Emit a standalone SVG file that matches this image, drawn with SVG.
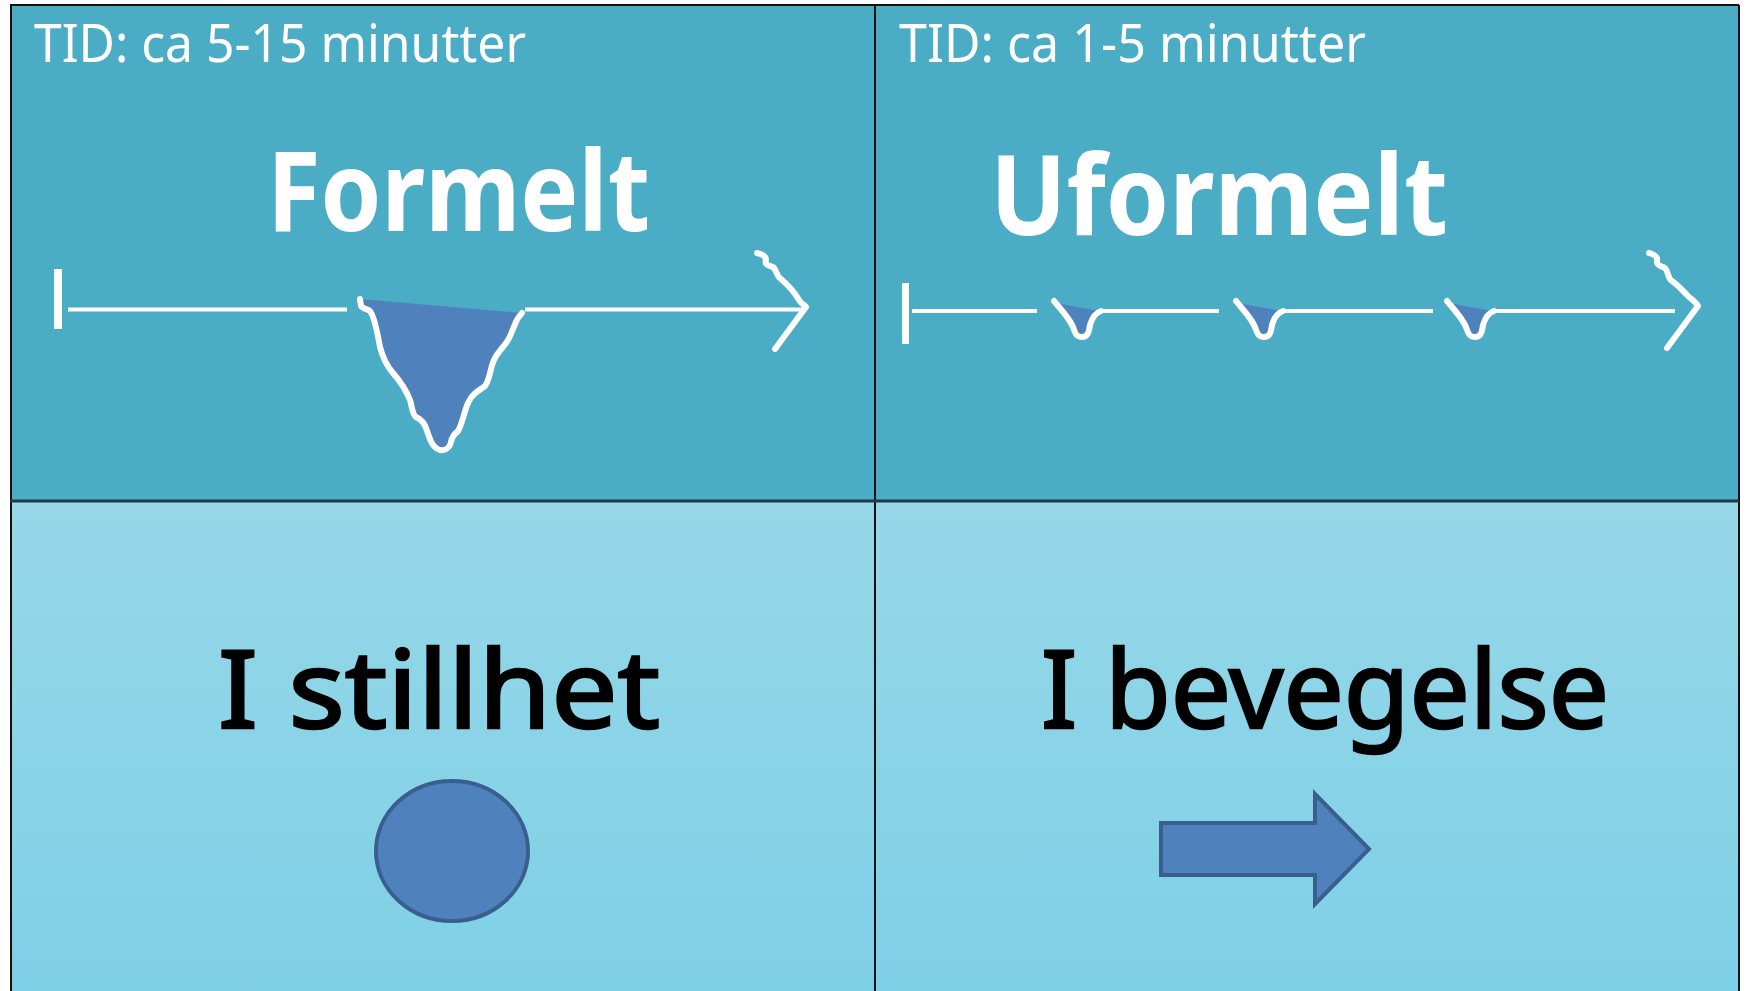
<svg xmlns="http://www.w3.org/2000/svg" xmlns:xlink="http://www.w3.org/1999/xlink" width="1748" height="991" viewBox="0 0 1748 991">
  <style>
    .top { fill: #4BACC6; }
    .tid { font-family: "Noto Sans", "DejaVu Sans", sans-serif; font-size: 52px; fill: #FFFFFF; }
    .title { font-family: "Noto Sans", "DejaVu Sans", sans-serif; font-size: 112px; font-weight: bold; fill: #FFFFFF; }
    .label { font-family: "Noto Sans", "DejaVu Sans", sans-serif; font-size: 108px; fill: #000000; stroke: #000000; stroke-width: 2.5; }
    .wline { stroke: #FFFFFF; stroke-width: 4; fill: none; }
    .wcurve { stroke: #FFFFFF; stroke-width: 6; fill: none; stroke-linecap: round; stroke-linejoin: round; }
    .drop { fill: #4F81BD; stroke: none; }
    .shape { fill: #4F81BD; stroke: #3A5F8C; stroke-width: 4; }
    .grid { stroke: #111111; stroke-width: 2; fill: none; }
  </style>
  <defs>
    <linearGradient id="bottomGrad" x1="0" y1="0" x2="0" y2="1">
      <stop offset="0" stop-color="#97D7E8"/>
      <stop offset="1" stop-color="#7ED0E7"/>
    </linearGradient>
    <g id="smallDrop">
      <path class="drop" d="M0,0 L44,8 C39,11 37,15 36,20 C35,28 33,32 27,32 C22,32 21,27 19,22 C13,13 6,7 0,0 Z"/>
      <path class="wcurve" d="M-1,-2 L4,4 C10,11 15,17 18,24 C20,30 21,34 27,34 C33,34 34,29 35,22 C37,15 40,10 46,8"/>
    </g>
  </defs>

  <rect x="0" y="0" width="1748" height="991" fill="#FFFFFF"/>

  <g id="panel-formelt">
    <rect class="top" x="10" y="5" width="865" height="496"/>
    <text class="tid" x="34" y="62" textLength="492" lengthAdjust="spacingAndGlyphs">TID: ca 5-15 minutter</text>
    <text class="title" x="267" y="231" textLength="383" lengthAdjust="spacingAndGlyphs">Formelt</text>
    <rect x="54" y="269" width="8" height="60" fill="#FFFFFF"/>
    <line class="wline" x1="68" y1="309.5" x2="347" y2="309.5"/>
    <line class="wline" x1="525" y1="309.5" x2="805" y2="309.5"/>
    <path class="drop" d="M360,299 L522,313 C514,325 512,333 508,340 C503,348 497,353 494,360 C490,368 490,380 485,386 C478,391 472,394 468,403 C464,412 462,425 458,431 C454,434 452,437 451,442 C450,447 446,451 440,450 C431,447 429,436 426,428 C424,422 420,419 416,417 C412,414 412,406 410,400 C406,390 400,381 393,373 C387,366 382,355 380,347 C377,330 374,316 370,311 C368,309 363,309 361,306 Z"/>
    <path class="wcurve" d="M360,299 L361,306 C363,309 368,309 370,311 C374,316 377,330 380,347 C382,355 387,366 393,373 C400,381 406,390 410,400 C412,406 412,414 416,417 C420,419 424,422 426,428 C429,436 431,447 440,450 C446,451 450,447 451,442 C452,437 454,434 458,431 C462,425 464,412 468,403 C472,394 478,391 485,386 C490,380 490,368 494,360 C497,353 503,348 508,340 C512,333 514,325 518,318 L522,313"/>
    <path class="wcurve" d="M757,253 C762,254 766,256 766,260 C764,265 770,266 773,267 C777,270 776,276 781,279 C788,285 795,293 799,300 C801,304 805,305 806,307 L775,349"/>
  </g>

  <g id="panel-uformelt">
    <rect class="top" x="875" y="5" width="864" height="496"/>
    <text class="tid" x="899" y="62" textLength="467" lengthAdjust="spacingAndGlyphs">TID: ca 1-5 minutter</text>
    <text class="title" x="990" y="235" textLength="458" lengthAdjust="spacingAndGlyphs">Uformelt</text>
    <rect x="902" y="283" width="7" height="61" fill="#FFFFFF"/>
    <line class="wline" x1="912" y1="311" x2="1037" y2="311"/>
    <line class="wline" x1="1099" y1="311" x2="1219" y2="311"/>
    <line class="wline" x1="1281" y1="311" x2="1433" y2="311"/>
    <line class="wline" x1="1492" y1="311" x2="1675" y2="311"/>
    <use xlink:href="#smallDrop" href="#smallDrop" transform="translate(1055,303)"/>
    <use xlink:href="#smallDrop" href="#smallDrop" transform="translate(1237,303)"/>
    <use xlink:href="#smallDrop" href="#smallDrop" transform="translate(1448,303)"/>
    <path class="wcurve" d="M1649,253 C1654,254 1658,257 1657,261 C1656,266 1662,266 1665,268 C1669,272 1667,278 1672,281 C1678,285 1683,291 1688,296 C1692,300 1696,302 1698,306 L1667,348"/>
  </g>

  <g id="panel-stillhet">
    <rect x="10" y="501" width="865" height="490" fill="url(#bottomGrad)"/>
    <text class="label" x="218" y="728" textLength="442" lengthAdjust="spacingAndGlyphs">I stillhet</text>
    <ellipse class="shape" cx="452" cy="851" rx="76" ry="70"/>
  </g>

  <g id="panel-bevegelse">
    <rect x="875" y="501" width="864" height="490" fill="url(#bottomGrad)"/>
    <text class="label" x="1041" y="728" textLength="568" lengthAdjust="spacingAndGlyphs">I bevegelse</text>
    <path class="shape" d="M1161,823 L1315,823 L1315,794 L1369,849 L1315,904 L1315,875 L1161,875 Z"/>
  </g>

  <g id="connectors"></g>

  <g id="grid">
    <line class="grid" x1="10" y1="5" x2="1739" y2="5"/>
    <line class="grid" x1="11" y1="5" x2="11" y2="991"/>
    <line class="grid" x1="1739" y1="5" x2="1739" y2="991"/>
    <line class="grid" x1="875" y1="5" x2="875" y2="991"/>
    <line x1="10" y1="501" x2="1739" y2="501" stroke="#1F3B44" stroke-width="3"/>
  </g>
</svg>
